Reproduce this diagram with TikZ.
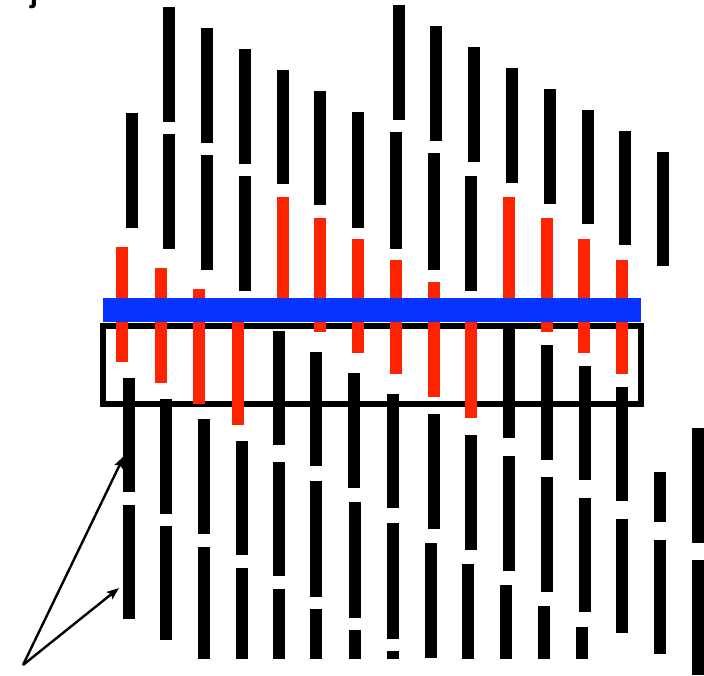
\documentclass[tikz,border=0pt]{standalone}
\usepackage{fontspec}
\setmainfont{Liberation Sans}
\usetikzlibrary{arrows.meta}
\definecolor{mtred}{RGB}{255,36,0}
\definecolor{mtblue}{RGB}{6,51,255}
\begin{document}
\begin{tikzpicture}[x=1pt,y=-1pt,
  blackbar/.style={fill=black},
  redbar/.style={fill=mtred},
  bluebar/.style={fill=mtblue},
  frame/.style={draw=black,line width=6pt},
  pointer/.style={line width=2.4pt,-{Stealth[length=12pt,width=9pt,inset=2pt]}}]
\path[use as bounding box] (0,0) rectangle (704,676);
% panel label (cropped at top edge)
\node[anchor=base,font=\bfseries\fontsize{30}{30}\selectfont,inner sep=0pt] (lbl) at (34,3) {j};
% frame
\draw[frame] (103,326) rectangle (641,404);
% black segments
\foreach \x/\t/\b in {
 126/113/228, 123/378/492, 123/505/619,
 163/7/122, 163/134/249, 160/399/514, 160/526/640,
 201/28/143, 201/155/270, 198/419/534, 198/547/659,
 239/49/164, 239/176/291, 236/441/555, 236/568/659,
 277/70/184, 273/331/445, 273/462/576, 273/589/659,
 314/91/205, 310/352/466, 310/481/597, 310/609/659,
 352/112/228, 348/373/488, 349/502/618, 349/630/659,
 393/5/120, 390/132/249, 387/394/508, 387/523/639, 387/651/659,
 430/26/141, 428/153/270, 428/414/529, 425/543/658,
 468/47/162, 465/176/291, 465/435/550, 462/564/659,
 506/68/183, 503/329/438, 503/456/571, 500/585/659,
 544/89/204, 541/345/460, 541/477/592, 538/606/659,
 582/110/224, 579/366/480, 579/498/612, 576/627/659,
 619/131/245, 616/387/501, 616/519/633,
 657/152/266, 654/472/522, 654/540/654,
 692/428/543, 692/560/675}
  \fill[blackbar] (\x,\t) rectangle (\x+12,\b);
% red segments
\foreach \x/\t/\b in {
 116/247/362, 155/268/383, 193/289/404, 232/310/425,
 277/197/312, 314/218/332, 352/239/353, 390/260/374,
 428/282/397, 465/310/418, 503/197/312, 541/218/332,
 578/239/353, 616/260/374}
  \fill[redbar] (\x,\t) rectangle (\x+12,\b);
% blue band
\fill[bluebar] (103,298) rectangle (641,322);
% arrows
\coordinate (src) at (23,665);
\coordinate (tipA) at (124,456);
\coordinate (tipB) at (119,588);
\draw[pointer] (src) -- (tipA);
\draw[pointer] (src) -- (tipB);
\end{tikzpicture}
\end{document}
